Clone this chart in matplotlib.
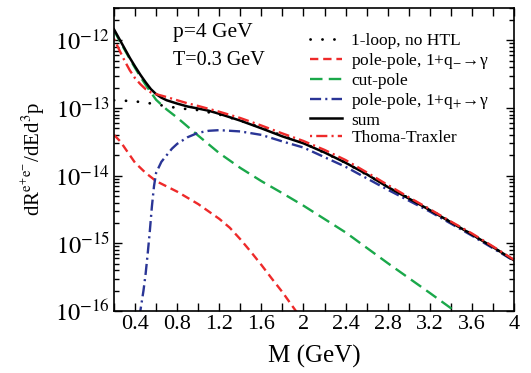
import matplotlib
matplotlib.use("Agg")
import matplotlib.pyplot as plt
import numpy as np
from matplotlib.ticker import FixedLocator, LogLocator, NullFormatter

plt.rcParams['font.family'] = ['Liberation Serif', 'DejaVu Serif']
plt.rcParams['mathtext.fontset'] = 'stix'
plt.rcParams['lines.scale_dashes'] = False

# values (M in GeV, rate in arbitrary units)
m_sum = [0.2, 0.25, 0.3, 0.35, 0.4, 0.45, 0.5, 0.55, 0.6, 0.65, 0.7, 0.8, 0.9, 1.0, 1.1, 1.2, 1.3,
         1.4, 1.6, 1.8, 2.0, 2.2, 2.4, 2.6, 2.8, 3.0, 3.2, 3.4, 3.6, 3.8, 4.0]
r_sum = [1.45e-12, 1.05e-12, 7.6e-13, 5.5e-13, 4.1e-13, 3.1e-13, 2.4e-13, 1.9e-13, 1.6e-13, 1.42e-13,
         1.3e-13, 1.16e-13, 1.05e-13, 9.8e-14, 9.1e-14, 8.2e-14, 7.3e-14, 6.5e-14, 5.0e-14, 3.8e-14,
         3.0e-14, 2.2e-14, 1.55e-14, 1.05e-14, 6.8e-15, 4.6e-15, 3.1e-15, 2.05e-15, 1.35e-15, 8.8e-16,
         5.6e-16]

m_tt = [0.2, 0.25, 0.3, 0.35, 0.4, 0.45, 0.5, 0.55, 0.6, 0.7, 0.8, 0.9, 1.0, 1.2, 1.4, 1.6, 1.8,
        2.0, 2.2, 2.4, 2.6, 2.8, 3.0, 3.2, 3.4, 3.6, 3.8, 4.0]
r_tt = [1.05e-12, 7.2e-13, 5.0e-13, 3.6e-13, 2.75e-13, 2.25e-13, 1.9e-13, 1.7e-13, 1.6e-13, 1.45e-13,
        1.3e-13, 1.17e-13, 1.07e-13, 8.8e-14, 7.1e-14, 5.5e-14, 4.2e-14, 3.25e-14, 2.4e-14, 1.7e-14,
        1.12e-14, 7.3e-15, 4.8e-15, 3.2e-15, 2.1e-15, 1.4e-15, 9.0e-16, 5.7e-16]

m_loop = [0.2, 0.3, 0.4, 0.5, 0.6, 0.7, 0.8, 0.9, 1.0, 1.2, 1.4, 1.6, 1.8, 2.0, 2.4, 2.8, 3.2, 3.6, 4.0]
r_loop = [1.3e-13, 1.28e-13, 1.25e-13, 1.2e-13, 1.13e-13, 1.06e-13, 1.0e-13, 9.6e-14, 9.3e-14, 8.0e-14,
          6.5e-14, 5.1e-14, 3.9e-14, 3.05e-14, 1.55e-14, 6.9e-15, 3.15e-15, 1.35e-15, 5.6e-16]

m_cut = [0.2, 0.25, 0.3, 0.35, 0.4, 0.45, 0.5, 0.55, 0.6, 0.7, 0.8, 0.9, 1.0, 1.2, 1.4, 1.6, 1.8,
         2.0, 2.4, 2.8, 3.2, 3.5]
r_cut = [1.4e-12, 1.0e-12, 7.3e-13, 5.3e-13, 3.9e-13, 2.9e-13, 2.2e-13, 1.7e-13, 1.32e-13, 9.5e-14,
         7.2e-14, 5.3e-14, 3.9e-14, 2.15e-14, 1.3e-14, 8.3e-15, 5.5e-15, 3.6e-15, 1.45e-15, 5.1e-16,
         1.85e-16, 8.5e-17]

m_qm = [0.2, 0.26, 0.3, 0.4, 0.5, 0.6, 0.8, 1.0, 1.2, 1.3, 1.4, 1.5, 1.6, 1.7, 1.8, 1.9, 2.0]
r_qm = [4.0e-14, 3.2e-14, 2.6e-14, 1.55e-14, 1.1e-14, 8.3e-15, 5.8e-15, 3.8e-15, 2.3e-15, 1.7e-15,
        1.15e-15, 7.5e-16, 4.8e-16, 3.0e-16, 1.9e-16, 1.15e-16, 7e-17]

m_qp = [0.44, 0.45, 0.48, 0.5, 0.52, 0.54, 0.56, 0.58, 0.6, 0.65, 0.7, 0.75, 0.8, 0.9, 1.0, 1.1,
        1.2, 1.4, 1.6, 1.8, 2.0, 2.4, 2.8, 3.2, 3.6, 4.0]
r_qp = [8e-17, 1.0e-16, 2.0e-16, 3.5e-16, 7e-16, 1.5e-15, 3.5e-15, 7e-15, 1.1e-14, 1.6e-14, 2.0e-14,
        2.5e-14, 2.95e-14, 3.7e-14, 4.3e-14, 4.6e-14, 4.7e-14, 4.5e-14, 4.0e-14, 3.2e-14, 2.6e-14,
        1.35e-14, 6.2e-15, 2.95e-15, 1.3e-15, 5.5e-16]

red = '#ee2a2a'
green = '#1aa84a'
blue = '#2a3596'

fig = plt.figure(figsize=(5.31, 3.73), dpi=100)
ax = fig.add_axes([0.2147, 0.1662, 0.7533, 0.8124])

ax.plot(m_loop, r_loop, color='black', lw=2.0, dashes=(0.1, 8.5), dash_capstyle='round',
        label='1-loop, no HTL')
ax.plot(m_qm, r_qm, color=red, lw=1.7, dashes=(6, 3.5), label='pole-pole, 1+q$_{-}$→γ')
ax.plot(m_cut, r_cut, color=green, lw=1.7, dashes=(9, 4.5), label='cut-pole')
ax.plot(m_qp, r_qp, color=blue, lw=1.7, dashes=(8, 3, 1.5, 3), label='pole-pole, 1+q$_{+}$→γ')
ax.plot(m_sum, r_sum, color='black', lw=1.8, label='sum')
ax.plot(m_tt, r_tt, color=red, lw=1.7, dashes=(1.5, 3, 8, 3), label='Thoma-Traxler')

ax.set_yscale('log')
ax.set_xlim(0.2, 4.0)
ax.set_ylim(1e-16, 3e-12)

ax.xaxis.set_major_locator(FixedLocator([0.4, 0.8, 1.2, 1.6, 2.0, 2.4, 2.8, 3.2, 3.6, 4.0]))
ax.xaxis.set_minor_locator(FixedLocator([0.2, 0.6, 1.0, 1.4, 1.8, 2.2, 2.6, 3.0, 3.4, 3.8]))
ax.set_xticklabels(['0.4', '0.8', '1.2', '1.6', '2', '2.4', '2.8', '3.2', '3.6', '4'])
ax.yaxis.set_major_locator(FixedLocator([1e-16, 1e-15, 1e-14, 1e-13, 1e-12]))
ax.set_yticklabels(['$10^{-16}$', '$10^{-15}$', '$10^{-14}$', '$10^{-13}$', '$10^{-12}$'])
ax.yaxis.set_minor_locator(LogLocator(base=10, subs=np.arange(2, 10), numticks=20))
ax.yaxis.set_minor_formatter(NullFormatter())

ax.tick_params(which='both', direction='in', top=True, right=True, width=1.0)
ax.tick_params(which='major', length=6)
ax.tick_params(axis='y', which='major', labelsize=17.5, pad=3)
ax.tick_params(axis='x', which='minor', length=6)
ax.tick_params(axis='y', which='minor', length=3.5)
ax.tick_params(axis='x', labelsize=16, pad=3)
for s in ax.spines.values():
    s.set_linewidth(1.2)

ax.set_xlabel('M (GeV)', fontsize=18, labelpad=8)
ax.set_ylabel(r'dR$^{\mathrm{e}^{+}\mathrm{e}^{-}}$/dEd$^{3}$p', fontsize=15, labelpad=6)

ax.text(0.148, 0.903, 'p=4 GeV', transform=ax.transAxes, fontsize=15.5)
ax.text(0.148, 0.812, 'T=0.3 GeV', transform=ax.transAxes, fontsize=14.5)

ax.legend(loc='upper left', bbox_to_anchor=(0.491, 0.917), frameon=False, fontsize=12.5,
          handlelength=1.8, handletextpad=0.55, labelspacing=0.1, borderpad=0.0,
          borderaxespad=0.0)

fig.savefig('out.png', dpi=100)
